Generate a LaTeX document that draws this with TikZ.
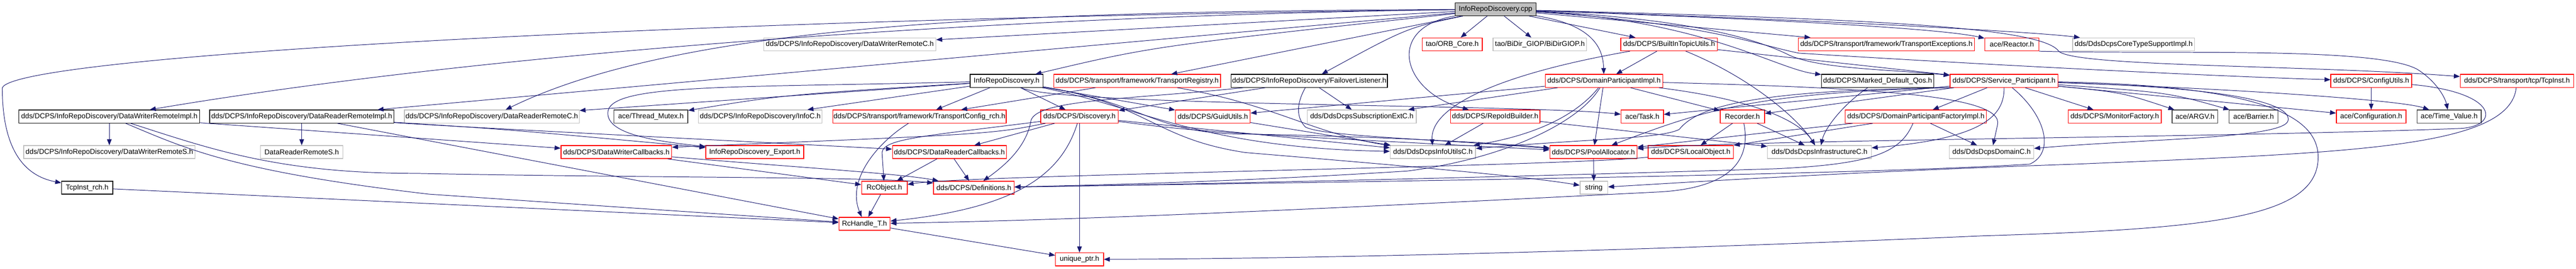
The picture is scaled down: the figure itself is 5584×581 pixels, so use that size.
\documentclass[tikz,border=0pt]{standalone}
\usepackage{fontspec}
\setmainfont{Liberation Sans}
\usetikzlibrary{arrows.meta}
\definecolor{edgeblue}{HTML}{191970}
\definecolor{boxred}{HTML}{FF0000}
\definecolor{boxgray}{HTML}{BFBFBF}
\definecolor{extgray}{HTML}{404040}
\begin{document}
\begin{tikzpicture}
  [x=1pt, y=-1pt,
   >={Triangle[length=13pt,width=10pt]},
   box/.style={draw, rectangle, fill=white, inner sep=0pt, minimum height=28,
     line width=1.5pt, font=\fontsize{15.5}{18}\selectfont},
   redbox/.style={box, draw=boxred},
   graybox/.style={box, draw=boxgray},
   docbox/.style={box, draw=black},
   extbox/.style={box, draw=extgray},
   cppbox/.style={box, draw=black, fill=boxgray},
   inc/.style={->, color=edgeblue, line width=1.1pt}]
  \useasboundingbox (0,0) rectangle (5584,581);

  % row 0 and 1
  \node[cppbox, minimum width=175] (cpp) at (3242,20) {InfoRepoDiscovery.cpp};
  \node[graybox, minimum width=373] (dwrc) at (1842,96) {dds/DCPS/InfoRepoDiscovery/DataWriterRemoteC.h};
  \node[redbox, minimum width=130] (orb) at (3148,96) {tao/ORB\_Core.h};
  \node[graybox, minimum width=203] (bidir) at (3338,96) {tao/BiDir\_GIOP/BiDirGIOP.h};
  \node[redbox, minimum width=209] (bitu) at (3618,96) {dds/DCPS/BuiltInTopicUtils.h};
  \node[redbox, minimum width=382] (texc) at (4089,96) {dds/DCPS/transport/framework/TransportExceptions.h};
  \node[redbox, minimum width=117] (reactor) at (4361,96) {ace/Reactor.h};
  \node[graybox, minimum width=264] (ctsi) at (4625,96) {dds/DdsDcpsCoreTypeSupportImpl.h};

  % row 2
  \node[docbox, minimum width=158] (irdh) at (2182,175) {InfoRepoDiscovery.h};
  \node[redbox, minimum width=361] (treg) at (2465,175) {dds/DCPS/transport/framework/TransportRegistry.h};
  \node[docbox, minimum width=339] (fail) at (2838,175) {dds/DCPS/InfoRepoDiscovery/FailoverListener.h};
  \node[redbox, minimum width=255] (dpi) at (3477,175) {dds/DCPS/DomainParticipantImpl.h};
  \node[docbox, minimum width=243] (mdq) at (4070,175) {dds/DCPS/Marked\_Default\_Qos.h};
  \node[redbox, minimum width=234] (sp) at (4344,175) {dds/DCPS/Service\_Participant.h};
  \node[redbox, minimum width=175] (cfgu) at (5140,175) {dds/DCPS/ConfigUtils.h};
  \node[redbox, minimum width=246] (tcpinst) at (5456,175) {dds/DCPS/transport/tcp/TcpInst.h};

  % row 3
  \node[docbox, minimum width=392] (dwri) at (237,252) {dds/DCPS/InfoRepoDiscovery/DataWriterRemoteImpl.h};
  \node[docbox, minimum width=399] (drri) at (654,252) {dds/DCPS/InfoRepoDiscovery/DataReaderRemoteImpl.h};
  \node[graybox, minimum width=379] (drrc) at (1066,252) {dds/DCPS/InfoRepoDiscovery/DataReaderRemoteC.h};
  \node[extbox, minimum width=160] (tmutex) at (1411,252) {ace/Thread\_Mutex.h};
  \node[graybox, minimum width=268] (infoc) at (1648,252) {dds/DCPS/InfoRepoDiscovery/InfoC.h};
  \node[redbox, minimum width=376] (tcrch) at (1993,252) {dds/DCPS/transport/framework/TransportConfig\_rch.h};
  \node[redbox, minimum width=168] (disc) at (2340,252) {dds/DCPS/Discovery.h};
  \node[redbox, minimum width=162] (guid) at (2629,252) {dds/DCPS/GuidUtils.h};
  \node[graybox, minimum width=236] (subext) at (2952,252) {dds/DdsDcpsSubscriptionExtC.h};
  \node[redbox, minimum width=194] (rib) at (3241,252) {dds/DCPS/RepoIdBuilder.h};
  \node[redbox, minimum width=92] (task) at (3560,252) {ace/Task.h};
  \node[redbox, minimum width=96] (rec) at (3777,252) {Recorder.h};
  \node[redbox, minimum width=306] (dpfi) at (4153,252) {dds/DCPS/DomainParticipantFactoryImpl.h};
  \node[redbox, minimum width=202] (monf) at (4584,252) {dds/DCPS/MonitorFactory.h};
  \node[extbox, minimum width=99] (argv) at (4758,252) {ace/ARGV.h};
  \node[extbox, minimum width=106] (barrier) at (4885,252) {ace/Barrier.h};
  \node[redbox, minimum width=151] (conf) at (5140,252) {ace/Configuration.h};
  \node[extbox, minimum width=139] (tval) at (5309,252) {ace/Time\_Value.h};

  % row 4
  \node[graybox, minimum width=371] (dwrs) at (237,329) {dds/DCPS/InfoRepoDiscovery/DataWriterRemoteS.h};
  \node[graybox, minimum width=179] (drrs) at (654,329) {DataReaderRemoteS.h};
  \node[redbox, minimum width=240] (dwcb) at (1336,329) {dds/DCPS/DataWriterCallbacks.h};
  \node[redbox, minimum width=212] (export) at (1636,329) {InfoRepoDiscovery\_Export.h};
  \node[redbox, minimum width=247] (drcb) at (2058,329) {dds/DCPS/DataReaderCallbacks.h};
  \node[graybox, minimum width=185] (iuc) at (3106,329) {dds/DdsDcpsInfoUtilsC.h};
  \node[redbox, minimum width=189] (pool) at (3454,329) {dds/DCPS/PoolAllocator.h};
  \node[redbox, minimum width=185] (lobj) at (3665,329) {dds/DCPS/LocalObject.h};
  \node[graybox, minimum width=225] (infra) at (3944,329) {dds/DdsDcpsInfrastructureC.h};
  \node[graybox, minimum width=183] (domc) at (4317,329) {dds/DdsDcpsDomainC.h};

  % rows 5 to 7
  \node[docbox, minimum width=111] (tcprch) at (189,406) {TcpInst\_rch.h};
  \node[redbox, minimum width=99] (rco) at (1917,406) {RcObject.h};
  \node[redbox, minimum width=175] (defs) at (2111,406) {dds/DCPS/Definitions.h};
  \node[graybox, minimum width=60] (str) at (3455,406) {string};
  \node[redbox, minimum width=111] (rch) at (1874,484) {RcHandle\_T.h};
  \node[redbox, minimum width=104] (uptr) at (2340,561) {unique\_ptr.h};

  % includes of the .cpp
  \draw[inc] (cpp) .. controls (1500,40) and (30,120) .. (5,190) .. controls (5,320) and (50,380) .. (tcprch);
  \draw[inc] (cpp) .. controls (2400,30) and (1200,90) .. (dwri);
  \draw[inc] (cpp) -- (drri);
  \draw[inc] (cpp) .. controls (2300,25) and (1500,40) .. (drrc);
  \draw[inc] (cpp) -- (dwrc);
  \draw[inc] (cpp) .. controls (2500,100) .. (irdh);
  \draw[inc] (cpp) -- (treg);
  \draw[inc] (cpp) .. controls (3050,60) .. (fail);
  \draw[inc] (cpp) -- (orb);
  \draw[inc] (cpp) -- (bidir);
  \draw[inc] (cpp) .. controls (3000,60) and (3040,200) .. (rib);
  \draw[inc] (cpp) .. controls (3460,55) and (3475,110) .. (dpi);
  \draw[inc] (cpp) -- (bitu);
  \draw[inc] (cpp) -- (texc);
  \draw[inc] (cpp) .. controls (3800,40) and (4200,60) .. (reactor);
  \draw[inc] (cpp) .. controls (4000,45) and (4420,70) .. (ctsi);
  \draw[inc] (cpp) .. controls (3700,45) and (3850,150) .. (mdq);
  \draw[inc] (cpp) .. controls (3650,40) and (3800,80) .. (3880,120) .. controls (3950,150) and (4100,150) .. (sp);
  \draw[inc] (cpp) .. controls (3700,50) and (3820,100) .. (3900,115) .. controls (4300,140) and (4800,165) .. (cfgu);
  \draw[inc] (cpp) .. controls (4000,40) and (4420,55) .. (4462,110) .. controls (4490,145) and (5000,140) .. (tcpinst);

  % InfoRepoDiscovery.h
  \draw[inc] (irdh) -- (tcrch);
  \draw[inc] (irdh) -- (disc);
  \draw[inc] (irdh) -- (guid);
  \draw[inc] (irdh) .. controls (1700,205) .. (tmutex);
  \draw[inc] (irdh) -- (infoc);
  \draw[inc] (irdh) -- (drrc);
  \draw[inc] (irdh) .. controls (1600,190) and (1330,180) .. (1318,240) .. controls (1310,290) and (1420,305) .. (export);
  \draw[inc] (irdh) .. controls (2300,230) and (3300,225) .. (task);
  \draw[inc] (irdh) .. controls (2470,230) and (2600,320) .. (iuc);
  \draw[inc] (irdh) .. controls (2490,225) and (2500,290) .. (2700,290) .. controls (2900,293) and (3200,305) .. (pool);
  \draw[inc] (irdh) .. controls (2490,225) and (2500,300) .. (2700,330) .. controls (3000,355) and (3300,380) .. (str);

  \draw[inc] (treg) -- (tcrch);
  \draw[inc] (treg) .. controls (2760,225) and (2850,290) .. (iuc);

  \draw[inc] (fail) -- (subext);
  \draw[inc] (fail) -- (disc);
  \draw[inc] (fail) .. controls (2450,215) and (2250,215) .. (2235,260) .. controls (2225,320) and (2175,360) .. (defs);
  \draw[inc] (fail) .. controls (2815,215) and (2805,250) .. (2830,275) .. controls (2870,295) and (3100,300) .. (pool);

  \draw[inc] (dpi) -- (guid);
  \draw[inc] (dpi) -- (subext);
  \draw[inc] (dpi) .. controls (3400,270) and (3280,300) .. (iuc);
  \draw[inc] (dpi) -- (pool);
  \draw[inc] (dpi) -- (rec);
  \draw[inc] (dpi) .. controls (3800,215) and (3900,260) .. (infra);
  \draw[inc] (dpi) .. controls (4050,190) and (4345,205) .. (4330,270) -- (domc);
  \draw[inc] (dpi) .. controls (3420,270) and (3250,345) .. (3050,370) .. controls (2700,392) and (2400,400) .. (defs);

  \draw[inc] (bitu) -- (dpi);
  \draw[inc] (bitu) .. controls (3250,160) and (3100,230) .. (iuc);
  \draw[inc] (bitu) .. controls (3800,170) and (3900,260) .. (infra);
  \draw[inc] (bitu) -- (sp);

  \draw[inc] (rib) -- (iuc);
  \draw[inc] (rib) -- (infra);
  \draw[inc] (rec) -- (lobj);
  \draw[inc] (rec) -- (infra);
  \draw[inc] (rec) .. controls (3795,340) and (3760,405) .. (3600,415) .. controls (3000,445) and (2400,475) .. (rch);
  \draw[inc] (mdq) .. controls (3990,230) and (3955,280) .. (infra);

  % Service_Participant.h
  \draw[inc] (sp) -- (dpfi);
  \draw[inc] (sp) -- (rec);
  \draw[inc] (sp) -- (task);
  \draw[inc] (sp.south west) .. controls (3800,200) and (3690,240) .. (pool);
  \draw[inc] (sp.south west) .. controls (3800,195) and (3680,230) .. (3640,280) .. controls (3600,300) and (3450,300) .. (iuc);
  \draw[inc] (sp) .. controls (4345,250) and (4300,300) .. (infra);
  \draw[inc] (sp) .. controls (4850,190) and (4965,225) .. (4960,260) .. controls (4955,300) and (4650,300) .. (domc);
  \draw[inc] (sp) .. controls (4900,185) and (5025,250) .. (5025,340) .. controls (5025,470) and (4800,495) .. (4300,510) .. controls (3500,545) and (2800,560) .. (uptr);
  \draw[inc] (sp) .. controls (4435,250) and (4455,330) .. (4400,355) .. controls (4000,380) and (2800,395) .. (defs);
  \draw[inc] (sp) -- (monf);
  \draw[inc] (sp) .. controls (4600,200) .. (argv);
  \draw[inc] (sp) .. controls (4700,200) .. (barrier);
  \draw[inc] (sp) -- (conf);
  \draw[inc] (sp) .. controls (4800,190) and (5200,215) .. (tval);

  \draw[inc] (dpfi) .. controls (3800,290) .. (pool);
  \draw[inc] (dpfi) -- (lobj);
  \draw[inc] (dpfi) -- (domc);
  \draw[inc] (dpfi) .. controls (4120,330) and (4060,355) .. (3850,365) .. controls (3200,385) and (2600,398) .. (defs);

  \draw[inc] (cfgu) -- (conf);
  \draw[inc] (cfgu) .. controls (5420,200) and (5420,275) .. (5330,278) .. controls (4800,298) and (3800,302) .. (pool);
  \draw[inc] (tcpinst) .. controls (5440,320) and (5100,330) .. (4500,355) .. controls (4000,372) and (3650,395) .. (str);
  \draw[inc] (reactor.south east) .. controls (4700,118) and (5150,100) .. (5240,150) .. controls (5280,175) and (5300,210) .. (tval);

  % left part
  \draw[inc] (dwri) -- (dwrs);
  \draw[inc] (dwri) -- (dwcb);
  \draw[inc] (dwri) .. controls (450,320) and (600,375) .. (900,375) .. controls (1400,385) and (1900,382) .. (defs);
  \draw[inc] (dwri) .. controls (400,320) and (500,370) .. (930,420) -- (rch);
  \draw[inc] (drri) -- (drrs);
  \draw[inc] (drri) .. controls (1100,280) .. (export);
  \draw[inc] (drri) .. controls (1000,275) and (1500,300) .. (drcb);
  \draw[inc] (drri) -- (rch);
  \draw[inc] (tcprch) -- (rch);
  \draw[inc] (tcrch) .. controls (1900,310) and (1835,390) .. (rch);

  % Discovery.h and below
  \draw[inc] (disc) -- (drcb);
  \draw[inc] (disc) .. controls (2000,295) and (1915,300) .. (1912,330) -- (rco);
  \draw[inc] (disc) .. controls (2300,380) and (2200,450) .. (rch);
  \draw[inc] (disc) -- (uptr);
  \draw[inc] (disc) .. controls (2150,290) .. (dwcb.5);
  \draw[inc] (disc) -- (iuc);
  \draw[inc] (disc) .. controls (2600,285) .. (pool);
  \draw[inc] (guid) -- (iuc);
  \draw[inc] (drcb) -- (rco);
  \draw[inc] (drcb) -- (defs);
  \draw[inc] (dwcb) -- (rco);
  \draw[inc] (dwcb) .. controls (1700,360) and (1950,375) .. (defs);
  \draw[inc] (lobj) .. controls (3400,360) and (2100,378) .. (rco.8);
  \draw[inc] (rco) -- (rch);
  \draw[inc] (rch) -- (uptr);
  \draw[inc] (pool) -- (str);
\end{tikzpicture}
\end{document}
